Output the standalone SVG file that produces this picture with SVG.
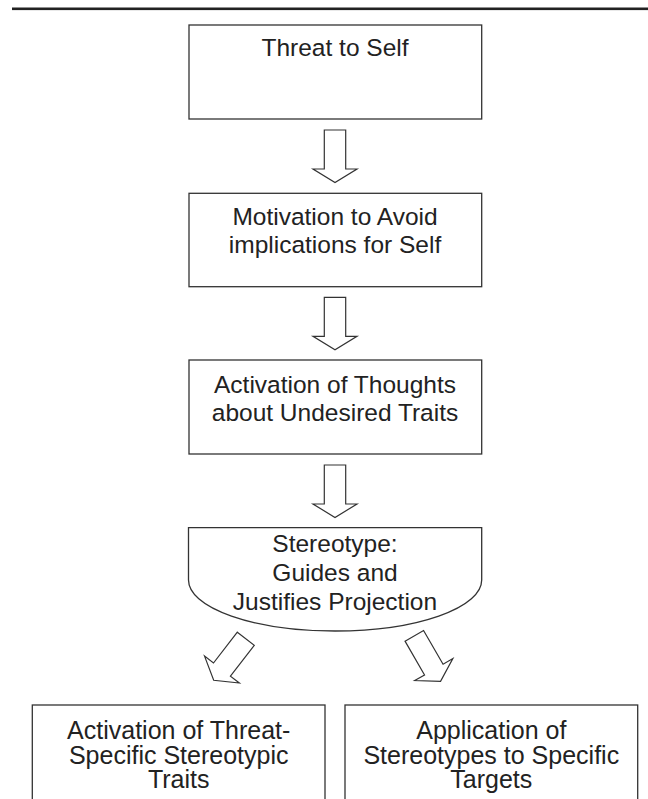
<svg xmlns="http://www.w3.org/2000/svg" xmlns:xlink="http://www.w3.org/1999/xlink" width="648" height="799" viewBox="0 0 648 799">
<style>
.box{fill:#fff;stroke:#333;stroke-width:1.3}
.arr{fill:#fff;stroke:#333;stroke-width:1.2;stroke-linejoin:miter}
.t{font-family:"Liberation Sans",Arial,Helvetica,sans-serif;font-size:24.5px;fill:#222;text-anchor:middle}
.tb{font-size:25px}
</style>
<defs>
<path id="blockArrow" class="arr" d="M-10.7,0 H10.7 V39 H22 L0,52.5 L-22,39 H-10.7 Z"/>
</defs>
<rect x="12" y="7.5" width="636" height="2.6" fill="#222"/>
<g id="connectors">
<use xlink:href="#blockArrow" transform="translate(335,130)"/>
<use xlink:href="#blockArrow" transform="translate(335,297.3)"/>
<use xlink:href="#blockArrow" transform="translate(335,465)"/>
<use xlink:href="#blockArrow" transform="translate(245.8,638.7) rotate(37.7)"/>
<use xlink:href="#blockArrow" transform="translate(414.3,635.8) rotate(-30)"/>
</g>
<g id="threat">
<rect class="box" x="189" y="25" width="292.7" height="94"/>
<text class="t" x="335" y="56">Threat to Self</text>
</g>
<g id="motivation">
<rect class="box" x="189" y="193.3" width="292.7" height="93.4"/>
<text class="t" x="335" y="225">Motivation to Avoid</text>
<text class="t" x="335" y="252.5">implications for Self</text>
</g>
<g id="activation">
<rect class="box" x="189" y="360" width="292.7" height="94"/>
<text class="t" x="335" y="393.3">Activation of Thoughts</text>
<text class="t" x="335" y="420.7">about Undesired Traits</text>
</g>
<g id="stereotype">
<path class="box" d="M188.5,527.7 H481.7 V580 A146.6,51 0 0 1 188.5,580 Z"/>
<text class="t" x="335" y="551.7">Stereotype:</text>
<text class="t" x="335" y="580.5">Guides and</text>
<text class="t" x="335" y="610">Justifies Projection</text>
</g>
<g id="threatTraits">
<rect class="box" x="32.3" y="705" width="292.7" height="110"/>
<text class="t tb" x="178.7" y="739">Activation of Threat-</text>
<text class="t tb" x="178.7" y="763.5">Specific Stereotypic</text>
<text class="t tb" x="178.7" y="787.5">Traits</text>
</g>
<g id="application">
<rect class="box" x="345" y="705" width="292.7" height="110"/>
<text class="t tb" x="491.3" y="739">Application of</text>
<text class="t tb" x="491.3" y="763.5">Stereotypes to Specific</text>
<text class="t tb" x="491.3" y="787.5">Targets</text>
</g>
</svg>
